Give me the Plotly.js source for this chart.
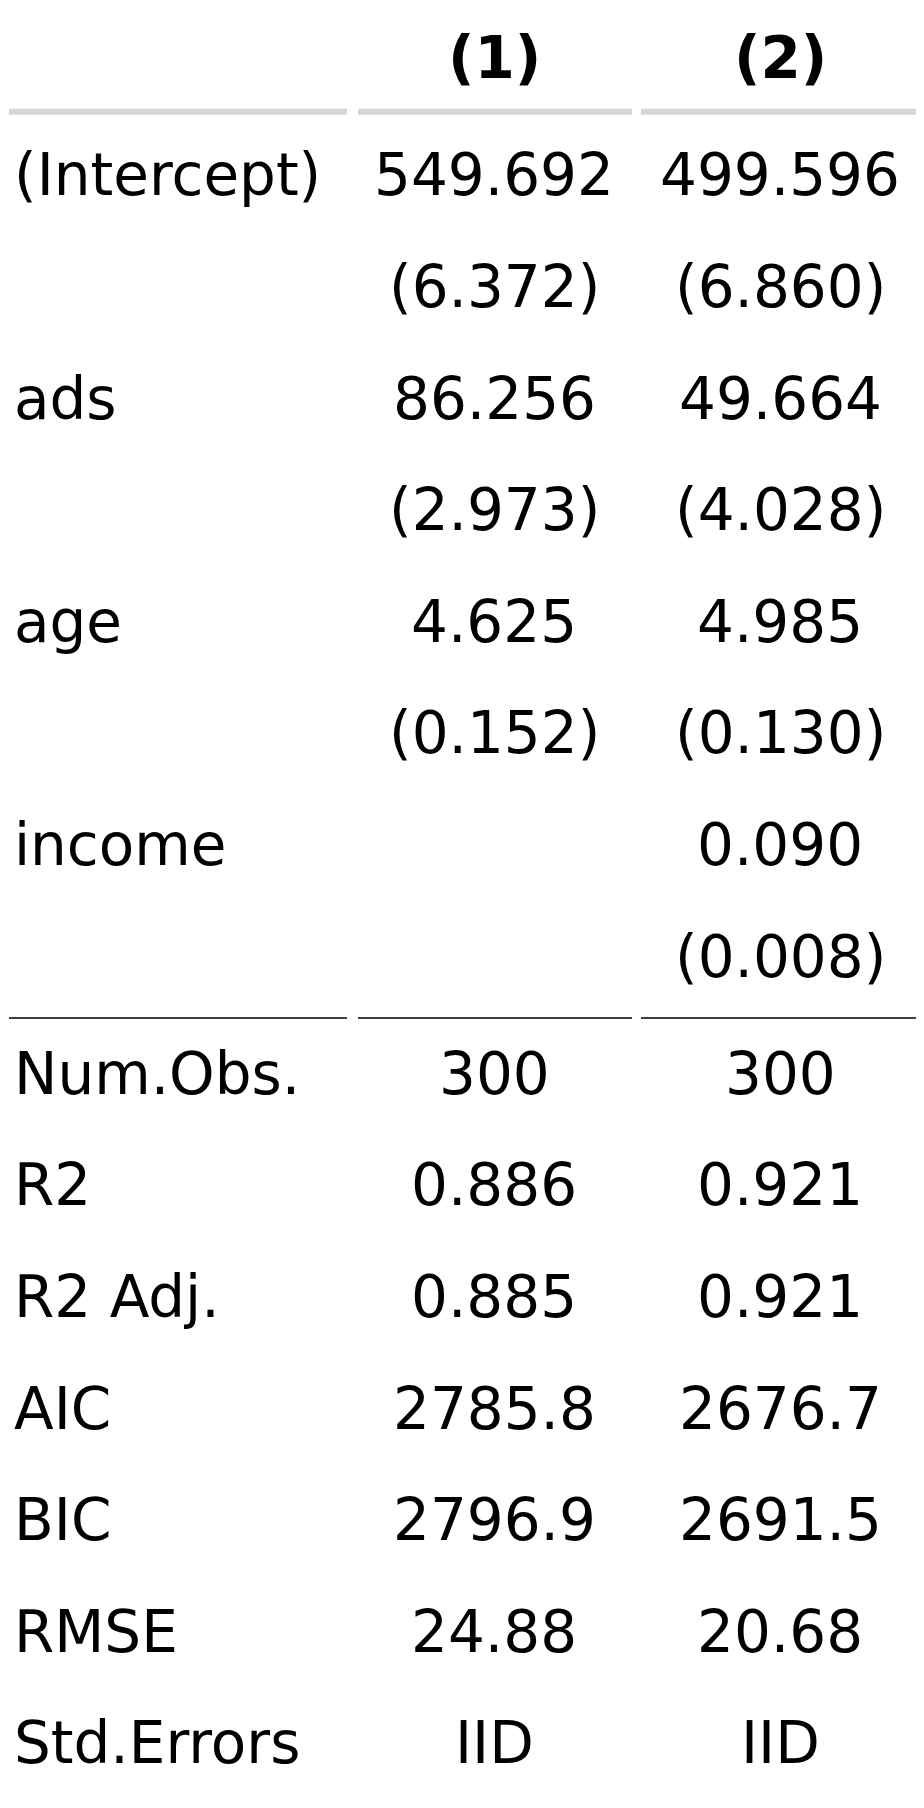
<!DOCTYPE html>
<html>
<head>
<meta charset="utf-8">
<script src="https://cdn.plot.ly/plotly-3.0.1.min.js"></script>
<style>body{margin:0;background:#fff}#tbl{width:924px;height:1808px}</style>
</head>
<body>
<div id="tbl"></div>
<script>
var headers = ['(1)', '(2)'];
var rowLabels = ['(Intercept)', '', 'ads', '', 'age', '', 'income', '',
                 'Num.Obs.', 'R2', 'R2 Adj.', 'AIC', 'BIC', 'RMSE', 'Std.Errors'];
var model1 = ['549.692', '(6.372)', '86.256', '(2.973)', '4.625', '(0.152)', '', '',
              '300', '0.886', '0.885', '2785.8', '2796.9', '24.88', 'IID'];
var model2 = ['499.596', '(6.860)', '49.664', '(4.028)', '4.985', '(0.130)', '0.090', '(0.008)',
              '300', '0.921', '0.921', '2676.7', '2691.5', '20.68', 'IID'];

var font = { family: 'DejaVu Sans, sans-serif', size: 58, color: '#000' };
var colX = [494, 780];
var ann = [];

headers.forEach(function (h, c) {
  ann.push({ x: colX[c], y: -1.1, text: '<b>' + h + '</b>', showarrow: false, xanchor: 'center', yanchor: 'middle', font: font });
});
rowLabels.forEach(function (lab, i) {
  var y = i < 8 ? i - 0.05 : i;
  if (lab) ann.push({ x: 12, y: y, text: lab, showarrow: false, xanchor: 'left', yanchor: 'middle', font: font });
  if (model1[i]) ann.push({ x: colX[0], y: y, text: model1[i], showarrow: false, xanchor: 'center', yanchor: 'middle', font: font });
  if (model2[i]) ann.push({ x: colX[1], y: y, text: model2[i], showarrow: false, xanchor: 'center', yanchor: 'middle', font: font });
});

var segs = [[9, 347], [358, 632], [641, 916]];
var shapes = [];
segs.forEach(function (s) {
  shapes.push({ type: 'line', x0: s[0], x1: s[1], y0: -0.62, y1: -0.62, line: { color: '#d3d6da', width: 6 } });
  shapes.push({ type: 'line', x0: s[0], x1: s[1], y0: 7.5, y1: 7.5, line: { color: '#000', width: 1.5 } });
});

var layout = {
  width: 924, height: 1808,
  margin: { t: 0, b: 0, l: 0, r: 0 },
  paper_bgcolor: '#fff', plot_bgcolor: '#fff',
  xaxis: { range: [0, 924], visible: false, fixedrange: true },
  yaxis: { range: [14.579, -1.622], visible: false, fixedrange: true },
  annotations: ann, shapes: shapes, showlegend: false
};

Plotly.newPlot('tbl', [], layout, { displayModeBar: false, staticPlot: true });
</script>
</body>
</html>
